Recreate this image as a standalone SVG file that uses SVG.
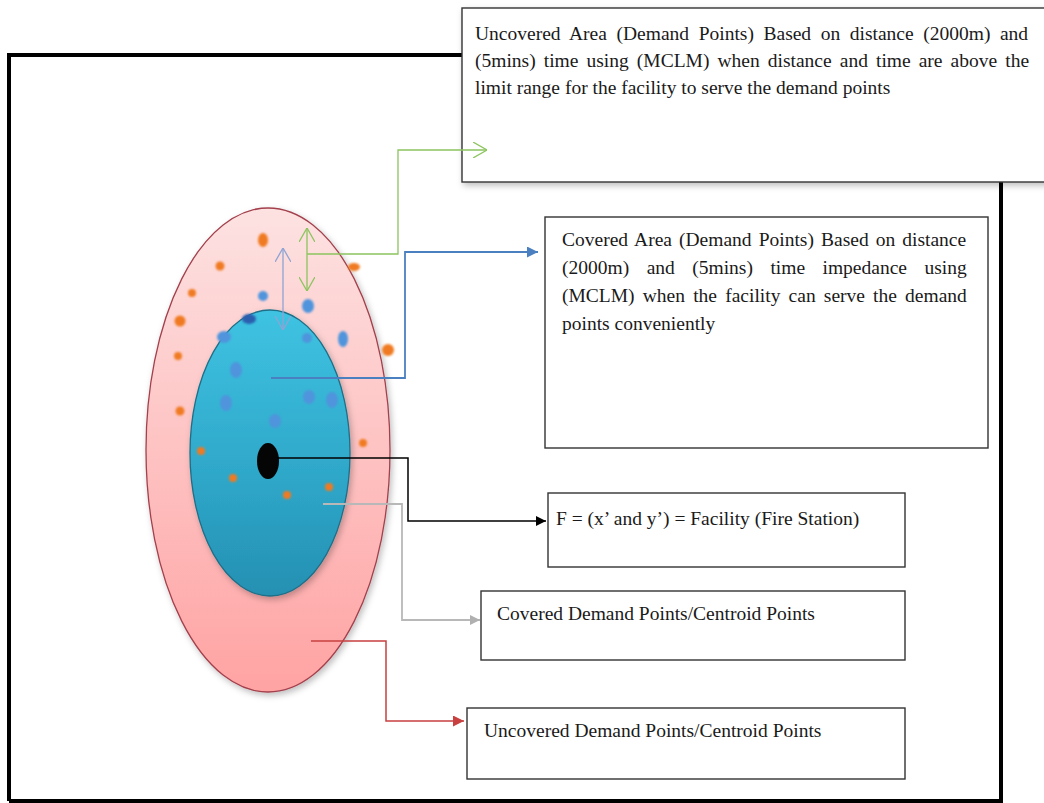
<svg xmlns="http://www.w3.org/2000/svg" width="1044" height="803" viewBox="0 0 1044 803">
<defs>
<style>
.box{fill:#fff;stroke:#333;stroke-width:1.4}
.t{font-family:"Liberation Serif",serif;font-size:19.5px;fill:#1a1a1a}
.conn{fill:none}
.od{fill:#f07a20}
.bd{fill:#4f94dc}
</style>
<linearGradient id="pinkG" x1="0" y1="0" x2="0" y2="1">
<stop offset="0" stop-color="#fde2e2"/>
<stop offset="1" stop-color="#ffa3a3"/>
</linearGradient>
<linearGradient id="tealG" x1="0" y1="0" x2="0" y2="1">
<stop offset="0" stop-color="#3fc3e2"/>
<stop offset="0.6" stop-color="#2ea6c8"/>
<stop offset="1" stop-color="#2590b2"/>
</linearGradient>
<filter id="sh" x="-20%" y="-20%" width="140%" height="140%">
<feDropShadow dx="2" dy="3" stdDeviation="3" flood-color="#000" flood-opacity="0.25"/>
</filter>
<filter id="blur1" x="-50%" y="-50%" width="200%" height="200%">
<feGaussianBlur stdDeviation="0.8"/>
</filter>
<marker id="mBlack" viewBox="0 0 10 10" refX="10" refY="5" markerWidth="10" markerHeight="10" markerUnits="userSpaceOnUse" orient="auto"><path d="M0,0 L10,5 L0,10 z" fill="#000"/></marker>
<marker id="mBlue" viewBox="0 0 10 10" refX="10" refY="5" markerWidth="11" markerHeight="11" markerUnits="userSpaceOnUse" orient="auto"><path d="M0,0 L10,5 L0,10 z" fill="#4a80c0"/></marker>
<marker id="mGray" viewBox="0 0 10 10" refX="10" refY="5" markerWidth="10" markerHeight="10" markerUnits="userSpaceOnUse" orient="auto"><path d="M0,0 L10,5 L0,10 z" fill="#b0b0b0"/></marker>
<marker id="mRed" viewBox="0 0 10 10" refX="10" refY="5" markerWidth="11" markerHeight="11" markerUnits="userSpaceOnUse" orient="auto"><path d="M0,0 L10,5 L0,10 z" fill="#c84040"/></marker>
<marker id="mGreenOpen" viewBox="0 0 14 16" refX="14" refY="8" markerWidth="14" markerHeight="16" markerUnits="userSpaceOnUse" orient="auto-start-reverse"><path d="M0,0 L14,8 L0,16" fill="none" stroke="#8cc45e" stroke-width="1.3"/></marker>
<marker id="mSteelOpen" viewBox="0 0 14 16" refX="14" refY="8" markerWidth="14" markerHeight="16" markerUnits="userSpaceOnUse" orient="auto-start-reverse"><path d="M0,0 L14,8 L0,16" fill="none" stroke="#8ea4d4" stroke-width="1.3"/></marker>
</defs>

<rect x="0" y="0" width="1044" height="803" fill="#fff"/>

<g id="frame">
<path d="M9,801 L9,55 L462,55 M1001,182 L1001,801 L9,801" fill="none" stroke="#000" stroke-width="4"/>
</g>

<g id="box-uncovered-area">
<rect class="box" x="462" y="8" width="600" height="174" filter="url(#sh)"/>
<text class="t" x="475" y="40" word-spacing="4.7">Uncovered Area (Demand Points) Based on distance (2000m) and</text>
<text class="t" x="475" y="67" word-spacing="3.2">(5mins) time using (MCLM) when distance and time are above the</text>
<text class="t" x="475" y="94">limit range for the facility to serve the demand points</text>
</g>

<g id="box-covered-area">
<rect class="box" x="545" y="217" width="443" height="231"/>
<text class="t" x="562" y="246" word-spacing="2.2">Covered Area (Demand Points) Based on distance</text>
<text class="t" x="562" y="274" word-spacing="12.6">(2000m) and (5mins) time impedance using</text>
<text class="t" x="562" y="302" word-spacing="3.3">(MCLM) when the facility can serve the demand</text>
<text class="t" x="562" y="330">points conveniently</text>
</g>

<g id="box-facility">
<rect class="box" x="548" y="493" width="357" height="74"/>
<text class="t" x="556" y="525">F = (x’ and y’) = Facility (Fire Station)</text>
</g>

<g id="box-covered-points">
<rect class="box" x="481" y="591" width="424" height="69"/>
<text class="t" x="497" y="620">Covered Demand Points/Centroid Points</text>
</g>

<g id="box-uncovered-points">
<rect class="box" x="467" y="708" width="438" height="71"/>
<text class="t" x="484" y="737">Uncovered Demand Points/Centroid Points</text>
</g>

<g id="zones">
<g id="uncovered-zone">
<ellipse cx="268" cy="450" rx="122" ry="242" fill="url(#pinkG)" stroke="#a3404c" stroke-width="1.3" filter="url(#sh)"/>
</g>
<g id="covered-zone">
<ellipse cx="270" cy="453" rx="80" ry="143" fill="url(#tealG)" stroke="#1d6f88" stroke-width="1.3" filter="url(#sh)"/>
</g>
<g id="facility">
<ellipse cx="268" cy="461" rx="11" ry="18" fill="#050505"/>
</g>
<g id="uncovered-points" filter="url(#blur1)">
<ellipse class="od" cx="263" cy="240" rx="5" ry="7"/>
<ellipse class="od" cx="220" cy="266" rx="4.5" ry="4.5"/>
<ellipse class="od" cx="192" cy="293" rx="4" ry="4"/>
<ellipse class="od" cx="180" cy="321" rx="5.5" ry="5.5"/>
<ellipse class="od" cx="178" cy="356" rx="4" ry="4"/>
<ellipse class="od" cx="180" cy="411" rx="4.5" ry="4.5"/>
<ellipse class="od" cx="201" cy="451" rx="4" ry="4"/>
<ellipse class="od" cx="233" cy="478" rx="4" ry="4"/>
<ellipse class="od" cx="287" cy="495" rx="4" ry="4"/>
<ellipse class="od" cx="329" cy="487" rx="4" ry="4"/>
<ellipse class="od" cx="363" cy="443" rx="4" ry="4"/>
<ellipse class="od" cx="388" cy="350" rx="6" ry="6"/>
<ellipse class="od" cx="354" cy="267" rx="6" ry="4"/>
</g>
<g id="covered-points" filter="url(#blur1)">
<ellipse class="bd" cx="263" cy="296" rx="5" ry="5"/>
<ellipse class="bd" cx="308" cy="306" rx="6" ry="7"/>
<ellipse cx="249" cy="319" rx="7" ry="5" fill="#2a5fae"/>
<ellipse class="bd" cx="224" cy="337" rx="7" ry="6"/>
<ellipse class="bd" cx="307" cy="338" rx="5" ry="5"/>
<ellipse class="bd" cx="343" cy="339" rx="5" ry="8"/>
<ellipse class="bd" cx="236" cy="370" rx="6" ry="8"/>
<ellipse class="bd" cx="226" cy="403" rx="6" ry="8"/>
<ellipse class="bd" cx="309" cy="397" rx="6" ry="7"/>
<ellipse class="bd" cx="332" cy="400" rx="6" ry="8"/>
<ellipse class="bd" cx="275" cy="421" rx="6" ry="7"/>
</g>
</g>

<g id="connectors" class="conn">
<path d="M307,228 L307,291" stroke="#8cc45e" stroke-width="1.3" marker-start="url(#mGreenOpen)" marker-end="url(#mGreenOpen)"/>
<path d="M307,254 L398,254 L398,150 L487,150" stroke="#8cc45e" stroke-width="1.3" marker-end="url(#mGreenOpen)"/>
<path d="M283,248 L283,330" stroke="#8ea4d4" stroke-width="1.3" marker-start="url(#mSteelOpen)" marker-end="url(#mSteelOpen)"/>
<path d="M271,378 L405,378 L405,252 L538,252" stroke="#4a80c0" stroke-width="1.8" marker-end="url(#mBlue)"/>
<path d="M277,458 L408,458 L408,521 L546,521" stroke="#000" stroke-width="1.5" marker-end="url(#mBlack)"/>
<path d="M323,504 L402,504 L402,620 L480,620" stroke="#b8b8b8" stroke-width="1.8" marker-end="url(#mGray)"/>
<path d="M311,641 L386,641 L386,721 L464,721" stroke="#c84040" stroke-width="1.5" marker-end="url(#mRed)"/>
</g>
</svg>
